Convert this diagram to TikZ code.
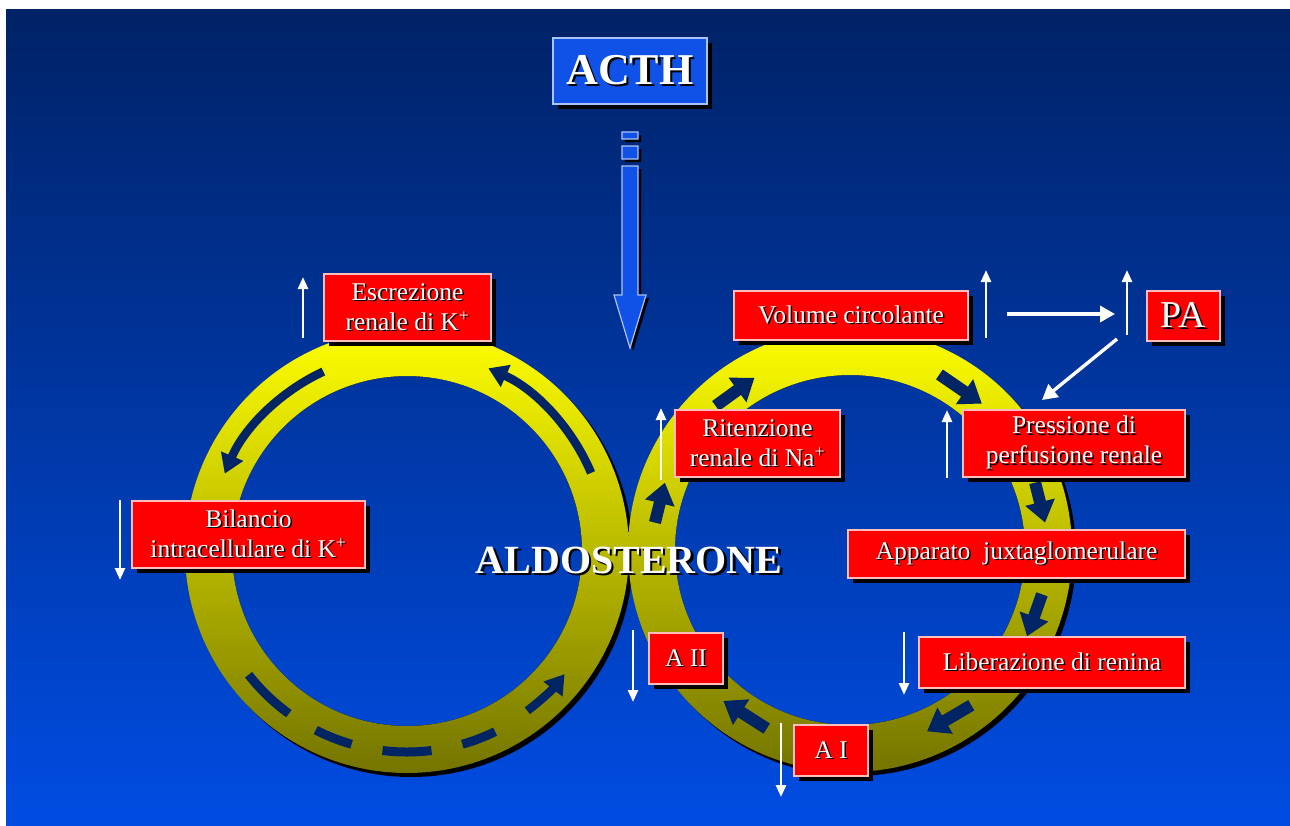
\documentclass[tikz,border=0pt]{standalone}
\usepackage{fontspec}
\setmainfont{Liberation Serif}
\usetikzlibrary{arrows.meta}
\usetikzlibrary{calc}
\usetikzlibrary{shadows}

\definecolor{bgtop}{RGB}{0,34,102}
\definecolor{bgbot}{RGB}{0,76,226}
\definecolor{ringtop}{RGB}{255,255,0}
\definecolor{ringbot}{RGB}{116,116,0}
\definecolor{navy}{RGB}{0,36,100}
\definecolor{acthblue}{RGB}{16,82,232}
\definecolor{acthedge}{RGB}{170,195,245}
\definecolor{boxedge}{RGB}{255,190,190}

% white text with a dark offset copy behind it
\newcommand{\sht}[2][1.5pt]{\leavevmode\rlap{\kern#1\raisebox{-#1}{\color{black}#2}}#2}

\tikzset{
  blackshadow/.style={drop shadow={shadow xshift=#1, shadow yshift=-#1, opacity=1, fill=black}},
  redbox/.style={draw=boxedge, line width=1.2pt, fill=red, text=white, align=center, inner sep=0pt,
    font=\fontsize{25.5}{30}\selectfont, blackshadow=5pt},
  upind/.style={draw=white, line width=2.6pt, -{Triangle[width=10pt,length=12pt]}},
  bigind/.style={draw=white, line width=3.4pt, -{Triangle[width=16pt,length=15pt]}},
  blockarrow/.style={draw=navy, line width=12pt, -{Triangle[width=29pt,length=21pt]}},
  curvarrow/.style={draw=navy, line width=8.5pt, -{Triangle[width=23pt,length=19pt]}},
  dashseg/.style={draw=navy, line width=9pt},
}

\begin{document}
\begin{tikzpicture}[x=1pt, y=-1pt]
    % page and background
    \fill[white] (0,0) rectangle (1290,825);
    \shade[top color=bgtop, bottom color=bgbot] (6,9) rectangle (1290,825);
    \coordinate (lc) at (407,551);
    \coordinate (rc) at (850,550);

    % the two rings
    \fill[black, even odd rule] ($(lc)+(4,4)$) circle[radius=222] (lc) circle[radius=175];
    \shade[top color=ringtop, bottom color=ringbot, even odd rule] (lc) circle[radius=222] (lc) circle[radius=175];
    \fill[black, even odd rule] ($(rc)+(4,4)$) circle[radius=222] (rc) circle[radius=175];
    \shade[top color=ringtop, bottom color=ringbot, even odd rule] (rc) circle[radius=222] (rc) circle[radius=175];

    % arrows on the left ring
    \draw[curvarrow] ($(lc)+(245:198)$) arc[start angle=245, end angle=203, radius=198];
    \draw[curvarrow] ($(lc)+(337:200)$) arc[start angle=337, end angle=294, radius=200];
    \foreach \a/\b in {142/126, 117/106, 97/83, 74/64}
        \draw[dashseg] ($(lc)+(\a:201)$) arc[start angle=\a, end angle=\b, radius=201];
    \draw[curvarrow] ($(lc)+(53:200)$) arc[start angle=53, end angle=38, radius=200];

    % arrows on the right ring
    \foreach \a/\b in {188/200, 227/241, 297/312, 340/352, 13/26, 52/67, 115/130}
        \draw[blockarrow] ($(rc)+(\a:197)$) -- ($(rc)+(\b:197)$);

    % ACTH
    \node[draw=acthedge, fill=acthblue, line width=1.2pt, text=white, inner sep=0pt,
          font=\fontsize{44}{44}\selectfont\bfseries, minimum width=154pt, minimum height=66pt,
          blackshadow=5pt] (acth) at (630,71) {\sht[2.5pt]{ACTH}};
    \filldraw[fill=acthblue, draw=acthedge, line width=1.2pt, blackshadow=3pt]
        (622,132) rectangle (638,139) (622,146) rectangle (638,159)
        (622,166) -- (638,166) -- (638,295) -- (646,295) -- (630,348) -- (614,295) -- (622,295) -- cycle;

    % boxes
    \node[redbox, minimum width=167pt, minimum height=67pt] (escr) at (407.5,307.5)
        {\sht{Escrezione}\\ \sht{renale di K\textsuperscript{+}}};
    \node[redbox, minimum width=233pt, minimum height=67pt] (bil) at (248.5,534.5)
        {\sht{Bilancio}\\ \sht{intracellulare di K\textsuperscript{+}}};
    \node[redbox, minimum width=234pt, minimum height=49pt] (vol) at (851,315.5) {\sht{Volume circolante}};
    \node[redbox, minimum width=73pt, minimum height=50pt, font=\fontsize{38}{38}\selectfont] (pa) at (1183.5,316) {\sht{PA}};
    \node[redbox, minimum width=165pt, minimum height=67pt] (rit) at (757.5,443.5)
        {\sht{Ritenzione}\\ \sht{renale di Na\textsuperscript{+}}};
    \node[redbox, minimum width=222pt, minimum height=67pt] (press) at (1074,443.5)
        {\sht{Pressione di}\\ \sht{perfusione renale}};
    \node[redbox, minimum width=337pt, minimum height=48pt] (app) at (1016.5,554) {\sht{Apparato\ \ juxtaglomerulare}};
    \node[redbox, minimum width=266pt, minimum height=51pt] (lib) at (1052,662.5) {\sht{Liberazione di renina}};
    \node[redbox, minimum width=74pt, minimum height=51pt] (aii) at (686,658.5) {\sht{A II}};
    \node[redbox, minimum width=74pt, minimum height=51pt] (ai) at (831,750.5) {\sht{A I}};

    % up / down marks
    \draw[upind] (303,338) -- (303,277);
    \draw[upind] (120,500) -- (120,580);
    \draw[upind] (986,338) -- (986,270);
    \draw[upind] (1127,335) -- (1127,270);
    \draw[upind] (661,480) -- (661,408);
    \draw[upind] (947,478) -- (947,410);
    \draw[upind] (904,632) -- (904,695);
    \draw[upind] (633,630) -- (633,702);
    \draw[upind] (781,723) -- (781,797);

    % volume -> PA -> pressione
    \coordinate (volr) at (1007,314);
    \coordinate (pal) at (1115,314);
    \coordinate (pab) at (1117,339);
    \coordinate (prt) at (1042,400);
    \draw[bigind] (volr) -- (pal);
    \draw[bigind] (pab) -- (prt);

    \node[text=white, font=\fontsize{40}{40}\selectfont\bfseries, anchor=base] (aldo) at (629,573)
        {\sht[2.5pt]{ALDOSTERONE}};
\end{tikzpicture}
\end{document}
